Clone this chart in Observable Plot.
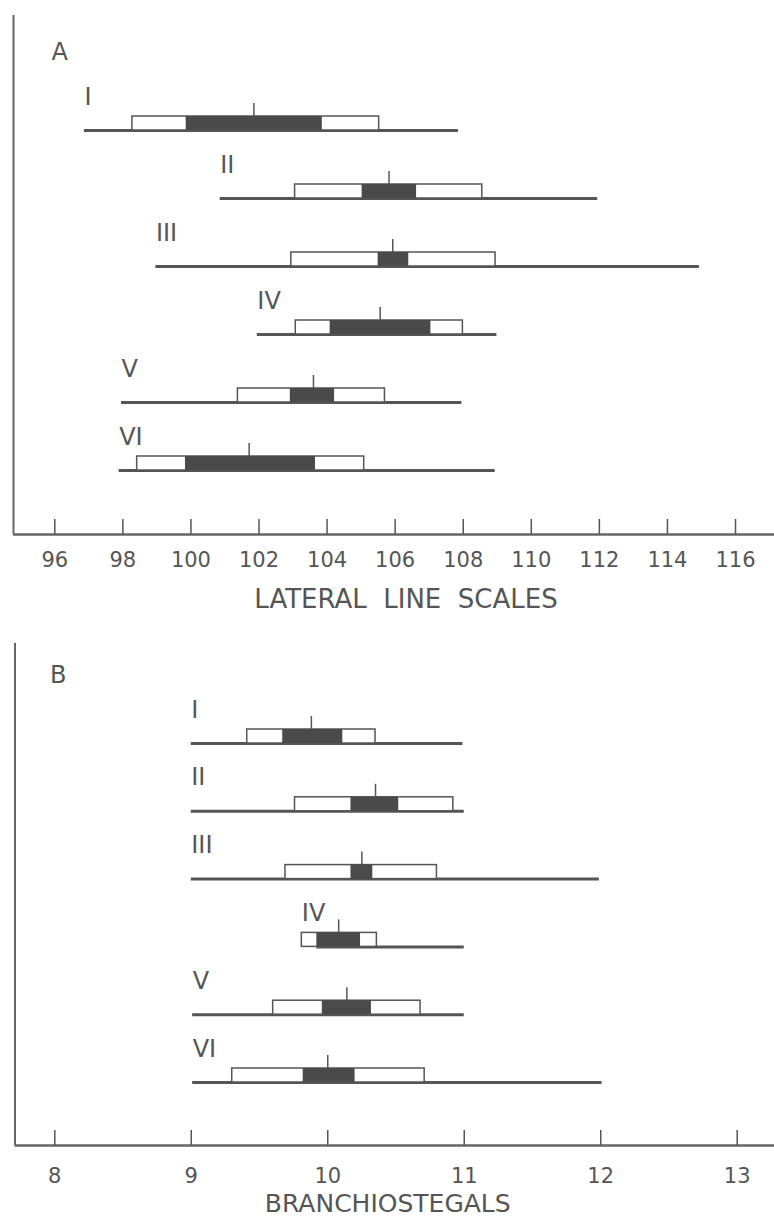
<!DOCTYPE html>
<html>
<head>
<meta charset="utf-8">
<script src="https://cdn.jsdelivr.net/npm/d3@7"></script>
<script src="https://cdn.jsdelivr.net/npm/@observablehq/plot@0.6"></script>
<style>
  html, body { margin: 0; padding: 0; background: #fff; overflow: hidden; }
  #chart svg { display: block; }
</style>
</head>
<body>
<div id="chart"></div>
<script>
// ---- Data ----
const groups = ["I", "II", "III", "IV", "V", "VI"];

// Panel A: lateral line scales
const latMin  = [96.87, 100.86, 98.97, 101.95, 97.96, 97.89];
const latSdLo = [98.28, 103.06, 102.95, 103.08, 101.38, 98.42];
const latSeLo = [99.86, 105.03, 105.50, 104.09, 102.92, 99.84];
const latMean = [101.85, 105.82, 105.93, 105.56, 103.60, 101.71];
const latSeHi = [103.86, 106.63, 106.40, 107.05, 104.22, 103.66];
const latSdHi = [105.53, 108.56, 108.95, 107.99, 105.70, 105.09];
const latMax  = [107.86, 111.95, 114.94, 108.99, 107.96, 108.94];
const latTicks = [96, 98, 100, 102, 104, 106, 108, 110, 112, 114, 116];

// Panel B: branchiostegals
const brMin  = [9.00, 9.00, 9.00, 9.92, 9.01, 9.01];
const brSdLo = [9.41, 9.76, 9.69, 9.81, 9.60, 9.30];
const brSeLo = [9.67, 10.17, 10.17, 9.92, 9.96, 9.82];
const brMean = [9.88, 10.35, 10.25, 10.08, 10.14, 10.00];
const brSeHi = [10.11, 10.52, 10.33, 10.24, 10.32, 10.20];
const brSdHi = [10.35, 10.92, 10.80, 10.36, 10.68, 10.71];
const brMax  = [10.99, 11.00, 11.99, 11.00, 11.00, 12.01];
const brTicks = [8, 9, 10, 11, 12, 13];

const FONT = "DejaVu Sans, Liberation Sans, sans-serif";
const INK = "#555";

function rowsOf(mins, sdLo, seLo, mean, seHi, sdHi, maxs) {
  return groups.map((name, i) => ({
    name, i, min: mins[i], sdLo: sdLo[i], seLo: seLo[i], mean: mean[i],
    seHi: seHi[i], sdHi: sdHi[i], max: maxs[i]
  }));
}

function panel(cfg) {
  const W = 774;
  const { height, marginTop, marginBottom, marginLeft, row1, step,
          t0, t0px, t1, t1px, ticks, rows, letter, letterDx, letterDy,
          title, titleDx, titleDy, titleSize, tickPad } = cfg;
  const baseline = height - marginBottom;
  const slope = (t1px - t0px) / (t1 - t0);
  const xMin = t0 - (t0px - marginLeft) / slope;
  const xMax = t0 + (W - t0px) / slope;
  const yTop = -(row1 - marginTop) / step;
  const yBot = (baseline - row1) / step;
  const BOX = 14 / step, TICK = 13 / step, AXT = 15 / step;

  return Plot.plot({
    width: W, height, marginTop, marginBottom, marginLeft, marginRight: 0,
    style: { fontFamily: FONT, background: "white", overflow: "visible" },
    x: { domain: [xMin, xMax] },
    y: { domain: [yBot, yTop], axis: null },
    marks: [
      // frame: left vertical and baseline
      Plot.ruleX([xMin], { stroke: "#666", strokeWidth: 2 }),
      Plot.ruleY([yBot], { stroke: "#666", strokeWidth: 2.5 }),
      // inward ticks
      Plot.ruleX(ticks, { x: d => d, y1: yBot, y2: yBot - AXT, stroke: "#555", strokeWidth: 1.5 }),
      Plot.axisX({ ticks, tickSize: 0, tickPadding: tickPad, fontSize: 21, fill: INK,
                   tickFormat: d => String(d), label: null, fontFamily: FONT }),
      // range lines
      Plot.ruleY(rows, { y: "i", x1: "min", x2: "max", stroke: "#555", strokeWidth: 3 }),
      // white boxes
      Plot.rect(rows, { x1: "sdLo", x2: "sdHi", y1: "i", y2: d => d.i - BOX,
                        fill: "white", stroke: "#555", strokeWidth: 1.5 }),
      // black boxes
      Plot.rect(rows, { x1: "seLo", x2: "seHi", y1: "i", y2: d => d.i - BOX,
                        fill: "#4a4a4a" }),
      // mean ticks
      Plot.ruleX(rows, { x: "mean", y1: d => d.i - BOX, y2: d => d.i - BOX - TICK,
                         stroke: "#555", strokeWidth: 1.5 }),
      // group labels
      Plot.text(rows, { x: d => Math.min(d.min, d.sdLo), y: "i", text: "name",
                        dy: -26, textAnchor: "start", lineAnchor: "bottom",
                        fontSize: 24, fill: INK, fontFamily: FONT }),
      // panel letter
      Plot.text([letter], { frameAnchor: "top-left", dx: letterDx, dy: letterDy,
                            lineAnchor: "top", textAnchor: "start",
                            fontSize: 24, fill: INK, fontFamily: FONT }),
      // axis title
      Plot.text([title], { frameAnchor: "bottom", dx: titleDx, dy: titleDy,
                           lineAnchor: "bottom", fontSize: titleSize, fill: INK, fontFamily: FONT })
    ]
  });
}

const chart = document.getElementById("chart");

chart.append(panel({
  height: 615, marginTop: 15, marginBottom: 81, marginLeft: 13,
  row1: 130, step: 68,
  t0: 96, t0px: 54.3, t1: 116, t1px: 735,
  ticks: latTicks,
  rows: rowsOf(latMin, latSdLo, latSeLo, latMean, latSeHi, latSdHi, latMax),
  letter: "A", letterDx: 38, letterDy: 27,
  title: "LATERAL  LINE  SCALES", titleDx: 12, titleDy: 73, titleSize: 26, tickPad: 18
}));

chart.append(panel({
  height: 605, marginTop: 28, marginBottom: 75, marginLeft: 14.5,
  row1: 128, step: 67.8,
  t0: 8, t0px: 54.3, t1: 13, t1px: 736.7,
  ticks: brTicks,
  rows: rowsOf(brMin, brSdLo, brSeLo, brMean, brSeHi, brSdHi, brMax),
  letter: "B", letterDx: 35, letterDy: 22,
  title: "BRANCHIOSTEGALS", titleDx: -7, titleDy: 66, titleSize: 25, tickPad: 23
}));
</script>
</body>
</html>
